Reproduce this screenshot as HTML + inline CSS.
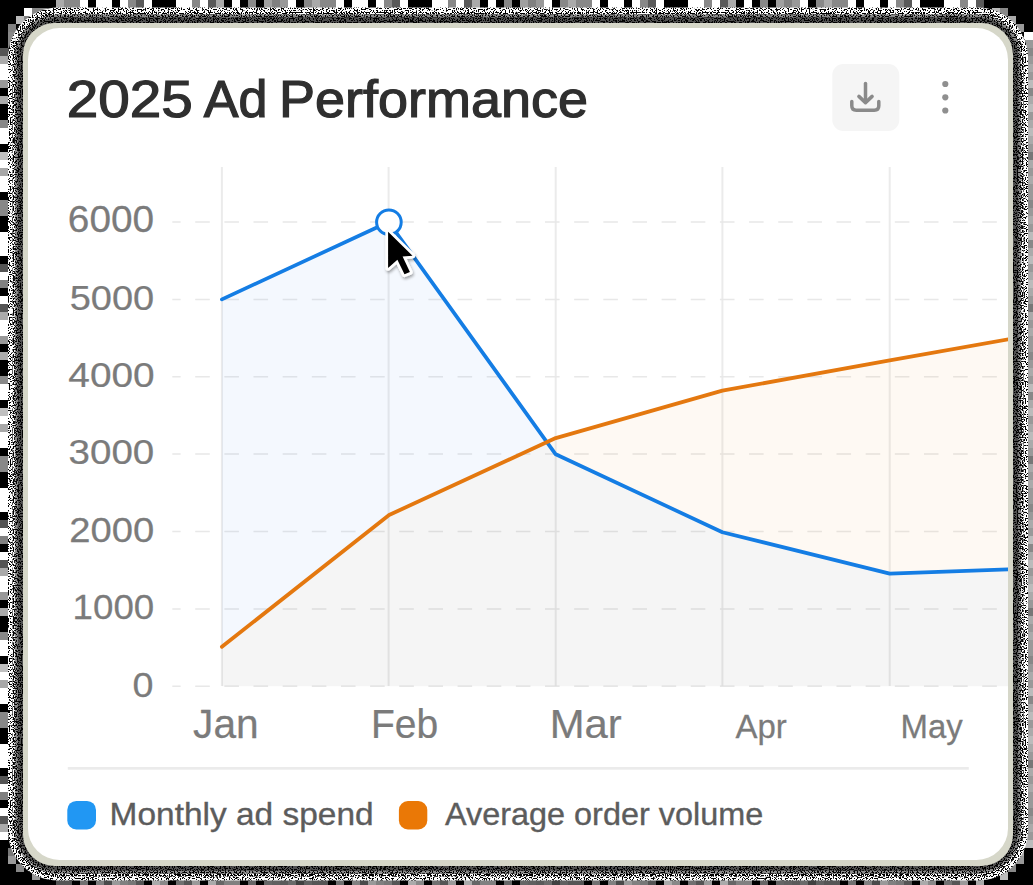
<!DOCTYPE html>
<html><head><meta charset="utf-8">
<style>
html,body{margin:0;padding:0;}
body{width:1033px;height:885px;overflow:hidden;position:relative;background:#000;font-family:"Liberation Sans",sans-serif;}
.abs{position:absolute;}
#beige{left:22.8px;top:22.7px;width:990px;height:843.3px;border-radius:31.5px;background:#d6d7c9;}
#card{left:27.7px;top:28px;width:980.3px;height:832px;border-radius:31.5px;background:#fff;overflow:hidden;}
svg{position:absolute;left:0;top:0;}
</style></head><body>
<svg id="bg" width="1033" height="885" style="position:absolute;left:0;top:0">
<rect x="56" y="0" width="8" height="8" fill="rgb(170,170,170)"/>
<rect x="64" y="0" width="8" height="8" fill="rgb(136,136,136)"/>
<rect x="72" y="0" width="8" height="8" fill="rgb(136,136,136)"/>
<rect x="80" y="0" width="8" height="8" fill="rgb(255,255,255)"/>
<rect x="96" y="0" width="8" height="8" fill="rgb(255,255,255)"/>
<rect x="104" y="0" width="8" height="8" fill="rgb(255,255,255)"/>
<rect x="120" y="0" width="8" height="8" fill="rgb(255,255,255)"/>
<rect x="128" y="0" width="8" height="8" fill="rgb(136,136,136)"/>
<rect x="136" y="0" width="8" height="8" fill="rgb(90,90,90)"/>
<rect x="144" y="0" width="8" height="8" fill="rgb(255,255,255)"/>
<rect x="176" y="0" width="8" height="8" fill="rgb(255,255,255)"/>
<rect x="184" y="0" width="8" height="8" fill="rgb(255,255,255)"/>
<rect x="192" y="0" width="8" height="8" fill="rgb(136,136,136)"/>
<rect x="200" y="0" width="8" height="8" fill="rgb(255,255,255)"/>
<rect x="208" y="0" width="8" height="8" fill="rgb(90,90,90)"/>
<rect x="216" y="0" width="8" height="8" fill="rgb(170,170,170)"/>
<rect x="232" y="0" width="8" height="8" fill="rgb(255,255,255)"/>
<rect x="248" y="0" width="8" height="8" fill="rgb(136,136,136)"/>
<rect x="264" y="0" width="8" height="8" fill="rgb(160,160,160)"/>
<rect x="272" y="0" width="8" height="8" fill="rgb(128,128,128)"/>
<rect x="280" y="0" width="8" height="8" fill="rgb(153,153,153)"/>
<rect x="288" y="0" width="8" height="8" fill="rgb(255,255,255)"/>
<rect x="304" y="0" width="8" height="8" fill="rgb(136,136,136)"/>
<rect x="312" y="0" width="8" height="8" fill="rgb(170,170,170)"/>
<rect x="320" y="0" width="8" height="8" fill="rgb(136,136,136)"/>
<rect x="328" y="0" width="8" height="8" fill="rgb(136,136,136)"/>
<rect x="336" y="0" width="8" height="8" fill="rgb(255,255,255)"/>
<rect x="352" y="0" width="8" height="8" fill="rgb(255,255,255)"/>
<rect x="360" y="0" width="8" height="8" fill="rgb(255,255,255)"/>
<rect x="376" y="0" width="8" height="8" fill="rgb(255,255,255)"/>
<rect x="384" y="0" width="8" height="8" fill="rgb(136,136,136)"/>
<rect x="392" y="0" width="8" height="8" fill="rgb(90,90,90)"/>
<rect x="400" y="0" width="8" height="8" fill="rgb(255,255,255)"/>
<rect x="432" y="0" width="8" height="8" fill="rgb(255,255,255)"/>
<rect x="440" y="0" width="8" height="8" fill="rgb(255,255,255)"/>
<rect x="448" y="0" width="8" height="8" fill="rgb(136,136,136)"/>
<rect x="456" y="0" width="8" height="8" fill="rgb(255,255,255)"/>
<rect x="464" y="0" width="8" height="8" fill="rgb(90,90,90)"/>
<rect x="472" y="0" width="8" height="8" fill="rgb(170,170,170)"/>
<rect x="488" y="0" width="8" height="8" fill="rgb(255,255,255)"/>
<rect x="504" y="0" width="8" height="8" fill="rgb(136,136,136)"/>
<rect x="520" y="0" width="8" height="8" fill="rgb(160,160,160)"/>
<rect x="528" y="0" width="8" height="8" fill="rgb(128,128,128)"/>
<rect x="536" y="0" width="8" height="8" fill="rgb(153,153,153)"/>
<rect x="544" y="0" width="8" height="8" fill="rgb(255,255,255)"/>
<rect x="560" y="0" width="8" height="8" fill="rgb(136,136,136)"/>
<rect x="568" y="0" width="8" height="8" fill="rgb(170,170,170)"/>
<rect x="576" y="0" width="8" height="8" fill="rgb(136,136,136)"/>
<rect x="584" y="0" width="8" height="8" fill="rgb(136,136,136)"/>
<rect x="592" y="0" width="8" height="8" fill="rgb(255,255,255)"/>
<rect x="608" y="0" width="8" height="8" fill="rgb(255,255,255)"/>
<rect x="616" y="0" width="8" height="8" fill="rgb(255,255,255)"/>
<rect x="632" y="0" width="8" height="8" fill="rgb(255,255,255)"/>
<rect x="640" y="0" width="8" height="8" fill="rgb(136,136,136)"/>
<rect x="648" y="0" width="8" height="8" fill="rgb(90,90,90)"/>
<rect x="656" y="0" width="8" height="8" fill="rgb(255,255,255)"/>
<rect x="688" y="0" width="8" height="8" fill="rgb(255,255,255)"/>
<rect x="696" y="0" width="8" height="8" fill="rgb(255,255,255)"/>
<rect x="704" y="0" width="8" height="8" fill="rgb(136,136,136)"/>
<rect x="712" y="0" width="8" height="8" fill="rgb(255,255,255)"/>
<rect x="720" y="0" width="8" height="8" fill="rgb(90,90,90)"/>
<rect x="728" y="0" width="8" height="8" fill="rgb(170,170,170)"/>
<rect x="744" y="0" width="8" height="8" fill="rgb(255,255,255)"/>
<rect x="760" y="0" width="8" height="8" fill="rgb(136,136,136)"/>
<rect x="776" y="0" width="8" height="8" fill="rgb(160,160,160)"/>
<rect x="784" y="0" width="8" height="8" fill="rgb(128,128,128)"/>
<rect x="792" y="0" width="8" height="8" fill="rgb(153,153,153)"/>
<rect x="800" y="0" width="8" height="8" fill="rgb(255,255,255)"/>
<rect x="816" y="0" width="8" height="8" fill="rgb(136,136,136)"/>
<rect x="824" y="0" width="8" height="8" fill="rgb(170,170,170)"/>
<rect x="832" y="0" width="8" height="8" fill="rgb(136,136,136)"/>
<rect x="840" y="0" width="8" height="8" fill="rgb(136,136,136)"/>
<rect x="848" y="0" width="8" height="8" fill="rgb(255,255,255)"/>
<rect x="864" y="0" width="8" height="8" fill="rgb(255,255,255)"/>
<rect x="872" y="0" width="8" height="8" fill="rgb(255,255,255)"/>
<rect x="888" y="0" width="8" height="8" fill="rgb(255,255,255)"/>
<rect x="896" y="0" width="8" height="8" fill="rgb(136,136,136)"/>
<rect x="904" y="0" width="8" height="8" fill="rgb(90,90,90)"/>
<rect x="912" y="0" width="8" height="8" fill="rgb(255,255,255)"/>
<rect x="944" y="0" width="8" height="8" fill="rgb(255,255,255)"/>
<rect x="952" y="0" width="8" height="8" fill="rgb(255,255,255)"/>
<rect x="960" y="0" width="8" height="8" fill="rgb(136,136,136)"/>
<rect x="968" y="0" width="8" height="8" fill="rgb(255,255,255)"/>
<rect x="976" y="0" width="8" height="8" fill="rgb(90,90,90)"/>
<rect x="0" y="48" width="8" height="8" fill="rgb(85,85,85)"/>
<rect x="0" y="56" width="8" height="8" fill="rgb(170,170,170)"/>
<rect x="0" y="64" width="8" height="8" fill="rgb(255,255,255)"/>
<rect x="0" y="72" width="8" height="8" fill="rgb(255,255,255)"/>
<rect x="0" y="80" width="8" height="8" fill="rgb(153,153,153)"/>
<rect x="0" y="96" width="8" height="8" fill="rgb(170,170,170)"/>
<rect x="0" y="120" width="8" height="8" fill="rgb(136,136,136)"/>
<rect x="0" y="128" width="8" height="8" fill="rgb(255,255,255)"/>
<rect x="0" y="136" width="8" height="8" fill="rgb(255,255,255)"/>
<rect x="0" y="152" width="8" height="8" fill="rgb(192,192,192)"/>
<rect x="0" y="160" width="8" height="8" fill="rgb(255,255,255)"/>
<rect x="0" y="168" width="8" height="8" fill="rgb(168,168,168)"/>
<rect x="0" y="176" width="8" height="8" fill="rgb(255,255,255)"/>
<rect x="0" y="184" width="8" height="8" fill="rgb(255,255,255)"/>
<rect x="0" y="200" width="8" height="8" fill="rgb(136,136,136)"/>
<rect x="0" y="208" width="8" height="8" fill="rgb(136,136,136)"/>
<rect x="0" y="232" width="8" height="8" fill="rgb(255,255,255)"/>
<rect x="0" y="240" width="8" height="8" fill="rgb(255,255,255)"/>
<rect x="0" y="248" width="8" height="8" fill="rgb(255,255,255)"/>
<rect x="0" y="264" width="8" height="8" fill="rgb(85,85,85)"/>
<rect x="0" y="272" width="8" height="8" fill="rgb(255,255,255)"/>
<rect x="0" y="280" width="8" height="8" fill="rgb(128,128,128)"/>
<rect x="0" y="296" width="8" height="8" fill="rgb(255,255,255)"/>
<rect x="0" y="304" width="8" height="8" fill="rgb(85,85,85)"/>
<rect x="0" y="312" width="8" height="8" fill="rgb(170,170,170)"/>
<rect x="0" y="320" width="8" height="8" fill="rgb(255,255,255)"/>
<rect x="0" y="328" width="8" height="8" fill="rgb(255,255,255)"/>
<rect x="0" y="336" width="8" height="8" fill="rgb(153,153,153)"/>
<rect x="0" y="352" width="8" height="8" fill="rgb(170,170,170)"/>
<rect x="0" y="376" width="8" height="8" fill="rgb(136,136,136)"/>
<rect x="0" y="384" width="8" height="8" fill="rgb(255,255,255)"/>
<rect x="0" y="392" width="8" height="8" fill="rgb(255,255,255)"/>
<rect x="0" y="408" width="8" height="8" fill="rgb(192,192,192)"/>
<rect x="0" y="416" width="8" height="8" fill="rgb(255,255,255)"/>
<rect x="0" y="424" width="8" height="8" fill="rgb(168,168,168)"/>
<rect x="0" y="432" width="8" height="8" fill="rgb(255,255,255)"/>
<rect x="0" y="440" width="8" height="8" fill="rgb(255,255,255)"/>
<rect x="0" y="456" width="8" height="8" fill="rgb(136,136,136)"/>
<rect x="0" y="464" width="8" height="8" fill="rgb(136,136,136)"/>
<rect x="0" y="488" width="8" height="8" fill="rgb(255,255,255)"/>
<rect x="0" y="496" width="8" height="8" fill="rgb(255,255,255)"/>
<rect x="0" y="504" width="8" height="8" fill="rgb(255,255,255)"/>
<rect x="0" y="520" width="8" height="8" fill="rgb(85,85,85)"/>
<rect x="0" y="528" width="8" height="8" fill="rgb(255,255,255)"/>
<rect x="0" y="536" width="8" height="8" fill="rgb(128,128,128)"/>
<rect x="0" y="552" width="8" height="8" fill="rgb(255,255,255)"/>
<rect x="0" y="560" width="8" height="8" fill="rgb(85,85,85)"/>
<rect x="0" y="568" width="8" height="8" fill="rgb(170,170,170)"/>
<rect x="0" y="576" width="8" height="8" fill="rgb(255,255,255)"/>
<rect x="0" y="584" width="8" height="8" fill="rgb(255,255,255)"/>
<rect x="0" y="592" width="8" height="8" fill="rgb(153,153,153)"/>
<rect x="0" y="608" width="8" height="8" fill="rgb(170,170,170)"/>
<rect x="0" y="632" width="8" height="8" fill="rgb(136,136,136)"/>
<rect x="0" y="640" width="8" height="8" fill="rgb(255,255,255)"/>
<rect x="0" y="648" width="8" height="8" fill="rgb(255,255,255)"/>
<rect x="0" y="664" width="8" height="8" fill="rgb(192,192,192)"/>
<rect x="0" y="672" width="8" height="8" fill="rgb(255,255,255)"/>
<rect x="0" y="680" width="8" height="8" fill="rgb(168,168,168)"/>
<rect x="0" y="688" width="8" height="8" fill="rgb(255,255,255)"/>
<rect x="0" y="696" width="8" height="8" fill="rgb(255,255,255)"/>
<rect x="0" y="712" width="8" height="8" fill="rgb(136,136,136)"/>
<rect x="0" y="720" width="8" height="8" fill="rgb(136,136,136)"/>
<rect x="0" y="744" width="8" height="8" fill="rgb(255,255,255)"/>
<rect x="0" y="752" width="8" height="8" fill="rgb(255,255,255)"/>
<rect x="0" y="760" width="8" height="8" fill="rgb(255,255,255)"/>
<rect x="0" y="776" width="8" height="8" fill="rgb(85,85,85)"/>
<rect x="0" y="784" width="8" height="8" fill="rgb(255,255,255)"/>
<rect x="0" y="792" width="8" height="8" fill="rgb(128,128,128)"/>
<rect x="0" y="808" width="8" height="8" fill="rgb(255,255,255)"/>
<rect x="0" y="816" width="8" height="8" fill="rgb(85,85,85)"/>
<rect x="0" y="824" width="8" height="8" fill="rgb(170,170,170)"/>
<rect x="0" y="832" width="8" height="8" fill="rgb(255,255,255)"/>
<rect x="56" y="880" width="8" height="5" fill="rgb(85,85,85)"/>
<rect x="64" y="880" width="8" height="5" fill="rgb(85,85,85)"/>
<rect x="80" y="880" width="8" height="5" fill="rgb(112,112,112)"/>
<rect x="96" y="880" width="8" height="5" fill="rgb(128,128,128)"/>
<rect x="104" y="880" width="8" height="5" fill="rgb(74,74,74)"/>
<rect x="112" y="880" width="8" height="5" fill="rgb(153,153,153)"/>
<rect x="120" y="880" width="8" height="5" fill="rgb(128,128,128)"/>
<rect x="128" y="880" width="8" height="5" fill="rgb(119,119,119)"/>
<rect x="136" y="880" width="8" height="5" fill="rgb(85,85,85)"/>
<rect x="152" y="880" width="8" height="5" fill="rgb(170,170,170)"/>
<rect x="160" y="880" width="8" height="5" fill="rgb(136,136,136)"/>
<rect x="176" y="880" width="8" height="5" fill="rgb(112,112,112)"/>
<rect x="184" y="880" width="8" height="5" fill="rgb(85,85,85)"/>
<rect x="192" y="880" width="8" height="5" fill="rgb(153,153,153)"/>
<rect x="208" y="880" width="8" height="5" fill="rgb(170,170,170)"/>
<rect x="216" y="880" width="8" height="5" fill="rgb(102,102,102)"/>
<rect x="224" y="880" width="8" height="5" fill="rgb(128,128,128)"/>
<rect x="232" y="880" width="8" height="5" fill="rgb(128,128,128)"/>
<rect x="248" y="880" width="8" height="5" fill="rgb(102,102,102)"/>
<rect x="264" y="880" width="8" height="5" fill="rgb(102,102,102)"/>
<rect x="272" y="880" width="8" height="5" fill="rgb(96,96,96)"/>
<rect x="280" y="880" width="8" height="5" fill="rgb(90,90,90)"/>
<rect x="288" y="880" width="8" height="5" fill="rgb(106,106,106)"/>
<rect x="296" y="880" width="8" height="5" fill="rgb(64,64,64)"/>
<rect x="304" y="880" width="8" height="5" fill="rgb(96,96,96)"/>
<rect x="312" y="880" width="8" height="5" fill="rgb(85,85,85)"/>
<rect x="320" y="880" width="8" height="5" fill="rgb(85,85,85)"/>
<rect x="336" y="880" width="8" height="5" fill="rgb(112,112,112)"/>
<rect x="352" y="880" width="8" height="5" fill="rgb(128,128,128)"/>
<rect x="360" y="880" width="8" height="5" fill="rgb(74,74,74)"/>
<rect x="368" y="880" width="8" height="5" fill="rgb(153,153,153)"/>
<rect x="376" y="880" width="8" height="5" fill="rgb(128,128,128)"/>
<rect x="384" y="880" width="8" height="5" fill="rgb(119,119,119)"/>
<rect x="392" y="880" width="8" height="5" fill="rgb(85,85,85)"/>
<rect x="408" y="880" width="8" height="5" fill="rgb(170,170,170)"/>
<rect x="416" y="880" width="8" height="5" fill="rgb(136,136,136)"/>
<rect x="432" y="880" width="8" height="5" fill="rgb(112,112,112)"/>
<rect x="440" y="880" width="8" height="5" fill="rgb(85,85,85)"/>
<rect x="448" y="880" width="8" height="5" fill="rgb(153,153,153)"/>
<rect x="464" y="880" width="8" height="5" fill="rgb(170,170,170)"/>
<rect x="472" y="880" width="8" height="5" fill="rgb(102,102,102)"/>
<rect x="480" y="880" width="8" height="5" fill="rgb(128,128,128)"/>
<rect x="488" y="880" width="8" height="5" fill="rgb(128,128,128)"/>
<rect x="504" y="880" width="8" height="5" fill="rgb(102,102,102)"/>
<rect x="520" y="880" width="8" height="5" fill="rgb(102,102,102)"/>
<rect x="528" y="880" width="8" height="5" fill="rgb(96,96,96)"/>
<rect x="536" y="880" width="8" height="5" fill="rgb(90,90,90)"/>
<rect x="544" y="880" width="8" height="5" fill="rgb(106,106,106)"/>
<rect x="552" y="880" width="8" height="5" fill="rgb(64,64,64)"/>
<rect x="560" y="880" width="8" height="5" fill="rgb(96,96,96)"/>
<rect x="568" y="880" width="8" height="5" fill="rgb(85,85,85)"/>
<rect x="576" y="880" width="8" height="5" fill="rgb(85,85,85)"/>
<rect x="592" y="880" width="8" height="5" fill="rgb(112,112,112)"/>
<rect x="608" y="880" width="8" height="5" fill="rgb(128,128,128)"/>
<rect x="616" y="880" width="8" height="5" fill="rgb(74,74,74)"/>
<rect x="624" y="880" width="8" height="5" fill="rgb(153,153,153)"/>
<rect x="632" y="880" width="8" height="5" fill="rgb(128,128,128)"/>
<rect x="640" y="880" width="8" height="5" fill="rgb(119,119,119)"/>
<rect x="648" y="880" width="8" height="5" fill="rgb(85,85,85)"/>
<rect x="664" y="880" width="8" height="5" fill="rgb(170,170,170)"/>
<rect x="672" y="880" width="8" height="5" fill="rgb(136,136,136)"/>
<rect x="688" y="880" width="8" height="5" fill="rgb(112,112,112)"/>
<rect x="696" y="880" width="8" height="5" fill="rgb(85,85,85)"/>
<rect x="704" y="880" width="8" height="5" fill="rgb(153,153,153)"/>
<rect x="720" y="880" width="8" height="5" fill="rgb(170,170,170)"/>
<rect x="728" y="880" width="8" height="5" fill="rgb(102,102,102)"/>
<rect x="736" y="880" width="8" height="5" fill="rgb(128,128,128)"/>
<rect x="744" y="880" width="8" height="5" fill="rgb(128,128,128)"/>
<rect x="760" y="880" width="8" height="5" fill="rgb(102,102,102)"/>
<rect x="776" y="880" width="8" height="5" fill="rgb(102,102,102)"/>
<rect x="784" y="880" width="8" height="5" fill="rgb(96,96,96)"/>
<rect x="792" y="880" width="8" height="5" fill="rgb(90,90,90)"/>
<rect x="800" y="880" width="8" height="5" fill="rgb(106,106,106)"/>
<rect x="808" y="880" width="8" height="5" fill="rgb(64,64,64)"/>
<rect x="816" y="880" width="8" height="5" fill="rgb(96,96,96)"/>
<rect x="824" y="880" width="8" height="5" fill="rgb(85,85,85)"/>
<rect x="832" y="880" width="8" height="5" fill="rgb(85,85,85)"/>
<rect x="848" y="880" width="8" height="5" fill="rgb(112,112,112)"/>
<rect x="864" y="880" width="8" height="5" fill="rgb(128,128,128)"/>
<rect x="872" y="880" width="8" height="5" fill="rgb(74,74,74)"/>
<rect x="880" y="880" width="8" height="5" fill="rgb(153,153,153)"/>
<rect x="888" y="880" width="8" height="5" fill="rgb(128,128,128)"/>
<rect x="896" y="880" width="8" height="5" fill="rgb(119,119,119)"/>
<rect x="904" y="880" width="8" height="5" fill="rgb(85,85,85)"/>
<rect x="920" y="880" width="8" height="5" fill="rgb(170,170,170)"/>
<rect x="928" y="880" width="8" height="5" fill="rgb(136,136,136)"/>
<rect x="944" y="880" width="8" height="5" fill="rgb(112,112,112)"/>
<rect x="952" y="880" width="8" height="5" fill="rgb(85,85,85)"/>
<rect x="960" y="880" width="8" height="5" fill="rgb(153,153,153)"/>
<rect x="976" y="880" width="8" height="5" fill="rgb(170,170,170)"/>
<rect x="1024" y="32" width="9" height="8" fill="rgb(255,255,255)"/>
<rect x="1024" y="40" width="9" height="8" fill="rgb(153,153,153)"/>
<rect x="1024" y="48" width="9" height="8" fill="rgb(136,136,136)"/>
<rect x="1024" y="56" width="9" height="8" fill="rgb(153,153,153)"/>
<rect x="1024" y="64" width="9" height="8" fill="rgb(170,170,170)"/>
<rect x="1024" y="72" width="9" height="8" fill="rgb(153,153,153)"/>
<rect x="1024" y="80" width="9" height="8" fill="rgb(187,187,187)"/>
<rect x="1024" y="88" width="9" height="8" fill="rgb(136,136,136)"/>
<rect x="1024" y="96" width="9" height="8" fill="rgb(170,170,170)"/>
<rect x="1024" y="104" width="9" height="8" fill="rgb(187,187,187)"/>
<rect x="1024" y="112" width="9" height="8" fill="rgb(153,153,153)"/>
<rect x="1024" y="120" width="9" height="8" fill="rgb(170,170,170)"/>
<rect x="1024" y="128" width="9" height="8" fill="rgb(187,187,187)"/>
<rect x="1024" y="136" width="9" height="8" fill="rgb(170,170,170)"/>
<rect x="1024" y="144" width="9" height="8" fill="rgb(153,153,153)"/>
<rect x="1024" y="152" width="9" height="8" fill="rgb(119,119,119)"/>
<rect x="1024" y="160" width="9" height="8" fill="rgb(170,170,170)"/>
<rect x="1024" y="168" width="9" height="8" fill="rgb(153,153,153)"/>
<rect x="1024" y="176" width="9" height="8" fill="rgb(170,170,170)"/>
<rect x="1024" y="184" width="9" height="8" fill="rgb(153,153,153)"/>
<rect x="1024" y="192" width="9" height="8" fill="rgb(153,153,153)"/>
<rect x="1024" y="200" width="9" height="8" fill="rgb(136,136,136)"/>
<rect x="1024" y="208" width="9" height="8" fill="rgb(153,153,153)"/>
<rect x="1024" y="216" width="9" height="8" fill="rgb(170,170,170)"/>
<rect x="1024" y="224" width="9" height="8" fill="rgb(153,153,153)"/>
<rect x="1024" y="232" width="9" height="8" fill="rgb(187,187,187)"/>
<rect x="1024" y="240" width="9" height="8" fill="rgb(136,136,136)"/>
<rect x="1024" y="248" width="9" height="8" fill="rgb(170,170,170)"/>
<rect x="1024" y="256" width="9" height="8" fill="rgb(187,187,187)"/>
<rect x="1024" y="264" width="9" height="8" fill="rgb(153,153,153)"/>
<rect x="1024" y="272" width="9" height="8" fill="rgb(170,170,170)"/>
<rect x="1024" y="280" width="9" height="8" fill="rgb(187,187,187)"/>
<rect x="1024" y="288" width="9" height="8" fill="rgb(170,170,170)"/>
<rect x="1024" y="296" width="9" height="8" fill="rgb(153,153,153)"/>
<rect x="1024" y="304" width="9" height="8" fill="rgb(119,119,119)"/>
<rect x="1024" y="312" width="9" height="8" fill="rgb(170,170,170)"/>
<rect x="1024" y="320" width="9" height="8" fill="rgb(153,153,153)"/>
<rect x="1024" y="328" width="9" height="8" fill="rgb(170,170,170)"/>
<rect x="1024" y="336" width="9" height="8" fill="rgb(153,153,153)"/>
<rect x="1024" y="344" width="9" height="8" fill="rgb(153,153,153)"/>
<rect x="1024" y="352" width="9" height="8" fill="rgb(136,136,136)"/>
<rect x="1024" y="360" width="9" height="8" fill="rgb(153,153,153)"/>
<rect x="1024" y="368" width="9" height="8" fill="rgb(170,170,170)"/>
<rect x="1024" y="376" width="9" height="8" fill="rgb(153,153,153)"/>
<rect x="1024" y="384" width="9" height="8" fill="rgb(187,187,187)"/>
<rect x="1024" y="392" width="9" height="8" fill="rgb(136,136,136)"/>
<rect x="1024" y="400" width="9" height="8" fill="rgb(170,170,170)"/>
<rect x="1024" y="408" width="9" height="8" fill="rgb(187,187,187)"/>
<rect x="1024" y="416" width="9" height="8" fill="rgb(153,153,153)"/>
<rect x="1024" y="424" width="9" height="8" fill="rgb(170,170,170)"/>
<rect x="1024" y="432" width="9" height="8" fill="rgb(187,187,187)"/>
<rect x="1024" y="440" width="9" height="8" fill="rgb(170,170,170)"/>
<rect x="1024" y="448" width="9" height="8" fill="rgb(153,153,153)"/>
<rect x="1024" y="456" width="9" height="8" fill="rgb(119,119,119)"/>
<rect x="1024" y="464" width="9" height="8" fill="rgb(170,170,170)"/>
<rect x="1024" y="472" width="9" height="8" fill="rgb(153,153,153)"/>
<rect x="1024" y="480" width="9" height="8" fill="rgb(170,170,170)"/>
<rect x="1024" y="488" width="9" height="8" fill="rgb(153,153,153)"/>
<rect x="1024" y="496" width="9" height="8" fill="rgb(153,153,153)"/>
<rect x="1024" y="504" width="9" height="8" fill="rgb(136,136,136)"/>
<rect x="1024" y="512" width="9" height="8" fill="rgb(153,153,153)"/>
<rect x="1024" y="520" width="9" height="8" fill="rgb(170,170,170)"/>
<rect x="1024" y="528" width="9" height="8" fill="rgb(153,153,153)"/>
<rect x="1024" y="536" width="9" height="8" fill="rgb(187,187,187)"/>
<rect x="1024" y="544" width="9" height="8" fill="rgb(136,136,136)"/>
<rect x="1024" y="552" width="9" height="8" fill="rgb(170,170,170)"/>
<rect x="1024" y="560" width="9" height="8" fill="rgb(187,187,187)"/>
<rect x="1024" y="568" width="9" height="8" fill="rgb(153,153,153)"/>
<rect x="1024" y="576" width="9" height="8" fill="rgb(170,170,170)"/>
<rect x="1024" y="584" width="9" height="8" fill="rgb(187,187,187)"/>
<rect x="1024" y="592" width="9" height="8" fill="rgb(170,170,170)"/>
<rect x="1024" y="600" width="9" height="8" fill="rgb(153,153,153)"/>
<rect x="1024" y="608" width="9" height="8" fill="rgb(119,119,119)"/>
<rect x="1024" y="616" width="9" height="8" fill="rgb(170,170,170)"/>
<rect x="1024" y="624" width="9" height="8" fill="rgb(153,153,153)"/>
<rect x="1024" y="632" width="9" height="8" fill="rgb(170,170,170)"/>
<rect x="1024" y="640" width="9" height="8" fill="rgb(153,153,153)"/>
<rect x="1024" y="648" width="9" height="8" fill="rgb(153,153,153)"/>
<rect x="1024" y="656" width="9" height="8" fill="rgb(136,136,136)"/>
<rect x="1024" y="664" width="9" height="8" fill="rgb(153,153,153)"/>
<rect x="1024" y="672" width="9" height="8" fill="rgb(170,170,170)"/>
<rect x="1024" y="680" width="9" height="8" fill="rgb(153,153,153)"/>
<rect x="1024" y="688" width="9" height="8" fill="rgb(187,187,187)"/>
<rect x="1024" y="696" width="9" height="8" fill="rgb(136,136,136)"/>
<rect x="1024" y="704" width="9" height="8" fill="rgb(170,170,170)"/>
<rect x="1024" y="712" width="9" height="8" fill="rgb(187,187,187)"/>
<rect x="1024" y="720" width="9" height="8" fill="rgb(153,153,153)"/>
<rect x="1024" y="728" width="9" height="8" fill="rgb(170,170,170)"/>
<rect x="1024" y="736" width="9" height="8" fill="rgb(187,187,187)"/>
<rect x="1024" y="744" width="9" height="8" fill="rgb(170,170,170)"/>
<rect x="1024" y="752" width="9" height="8" fill="rgb(153,153,153)"/>
<rect x="1024" y="760" width="9" height="8" fill="rgb(119,119,119)"/>
<rect x="1024" y="768" width="9" height="8" fill="rgb(170,170,170)"/>
<rect x="1024" y="776" width="9" height="8" fill="rgb(153,153,153)"/>
<rect x="1024" y="784" width="9" height="8" fill="rgb(170,170,170)"/>
<rect x="1024" y="792" width="9" height="8" fill="rgb(153,153,153)"/>
<rect x="1024" y="800" width="9" height="8" fill="rgb(153,153,153)"/>
<rect x="1024" y="808" width="9" height="8" fill="rgb(136,136,136)"/>
<rect x="1024" y="816" width="9" height="8" fill="rgb(153,153,153)"/>
<rect x="1024" y="824" width="9" height="8" fill="rgb(170,170,170)"/>
<rect x="1024" y="832" width="9" height="8" fill="rgb(153,153,153)"/>
<rect x="1024" y="840" width="9" height="8" fill="rgb(187,187,187)"/>
<rect x="24" y="8" width="8" height="8" fill="rgb(255,255,255)"/>
<rect x="32" y="8" width="8" height="8" fill="rgb(136,136,136)"/>
<rect x="40" y="8" width="8" height="8" fill="rgb(136,136,136)"/>
<rect x="16" y="16" width="8" height="8" fill="rgb(187,187,187)"/>
<rect x="24" y="16" width="8" height="8" fill="rgb(128,128,128)"/>
<rect x="8" y="24" width="8" height="8" fill="rgb(128,128,128)"/>
<rect x="8" y="32" width="8" height="8" fill="rgb(136,136,136)"/>
<rect x="8" y="40" width="8" height="8" fill="rgb(136,136,136)"/>
<rect x="992" y="8" width="8" height="8" fill="rgb(187,187,187)"/>
<rect x="1000" y="8" width="8" height="8" fill="rgb(136,136,136)"/>
<rect x="1008" y="16" width="8" height="8" fill="rgb(170,170,170)"/>
<rect x="1016" y="24" width="8" height="8" fill="rgb(153,153,153)"/>
<rect x="8" y="848" width="8" height="8" fill="rgb(119,119,119)"/>
<rect x="8" y="856" width="8" height="8" fill="rgb(153,153,153)"/>
<rect x="16" y="864" width="8" height="8" fill="rgb(136,136,136)"/>
<rect x="32" y="872" width="8" height="8" fill="rgb(153,153,153)"/>
<rect x="1016" y="848" width="8" height="8" fill="rgb(170,170,170)"/>
<rect x="1016" y="856" width="8" height="8" fill="rgb(153,153,153)"/>
<rect x="1008" y="864" width="8" height="8" fill="rgb(136,136,136)"/>
<rect x="1000" y="872" width="8" height="8" fill="rgb(187,187,187)"/>
<defs>
<filter id="n0" filterUnits="userSpaceOnUse" x="0" y="0" width="1033" height="885"><feTurbulence type="fractalNoise" baseFrequency="0.75" numOctaves="1" seed="11" result="t"/><feColorMatrix in="t" type="matrix" values="0 0 0 0 0 0 0 0 0 0 0 0 0 0 0 1 0 0 0 0" result="a"/><feComponentTransfer in="a" result="b"><feFuncA type="linear" slope="40" intercept="-21.40"/></feComponentTransfer><feComposite in="SourceGraphic" in2="b" operator="in"/></filter>
<filter id="n1" filterUnits="userSpaceOnUse" x="0" y="0" width="1033" height="885"><feTurbulence type="fractalNoise" baseFrequency="0.75" numOctaves="1" seed="16" result="t"/><feColorMatrix in="t" type="matrix" values="0 0 0 0 0 0 0 0 0 0 0 0 0 0 0 1 0 0 0 0" result="a"/><feComponentTransfer in="a" result="b"><feFuncA type="linear" slope="40" intercept="-19.00"/></feComponentTransfer><feComposite in="SourceGraphic" in2="b" operator="in"/></filter>
<filter id="n2" filterUnits="userSpaceOnUse" x="0" y="0" width="1033" height="885"><feTurbulence type="fractalNoise" baseFrequency="0.75" numOctaves="1" seed="21" result="t"/><feColorMatrix in="t" type="matrix" values="0 0 0 0 0 0 0 0 0 0 0 0 0 0 0 1 0 0 0 0" result="a"/><feComponentTransfer in="a" result="b"><feFuncA type="linear" slope="40" intercept="-20.20"/></feComponentTransfer><feComposite in="SourceGraphic" in2="b" operator="in"/></filter>
<filter id="n3" filterUnits="userSpaceOnUse" x="0" y="0" width="1033" height="885"><feTurbulence type="fractalNoise" baseFrequency="0.75" numOctaves="1" seed="26" result="t"/><feColorMatrix in="t" type="matrix" values="0 0 0 0 0 0 0 0 0 0 0 0 0 0 0 1 0 0 0 0" result="a"/><feComponentTransfer in="a" result="b"><feFuncA type="linear" slope="40" intercept="-20.20"/></feComponentTransfer><feComposite in="SourceGraphic" in2="b" operator="in"/></filter>
<mask id="m0" maskUnits="userSpaceOnUse" x="0" y="0" width="1033" height="885"><rect x="8.0" y="7.6" width="1020.0" height="873.0" rx="50" fill="#fff"/><rect x="12.4" y="12.0" width="1011.2" height="864.2" rx="46" fill="#000"/></mask>
<mask id="m1" maskUnits="userSpaceOnUse" x="0" y="0" width="1033" height="885"><rect x="12.4" y="12.0" width="1011.2" height="864.2" rx="46" fill="#fff"/><rect x="14.9" y="14.5" width="1006.2" height="859.2" rx="43" fill="#000"/></mask>
<mask id="m2" maskUnits="userSpaceOnUse" x="0" y="0" width="1033" height="885"><rect x="14.9" y="14.5" width="1006.2" height="859.2" rx="43" fill="#fff"/><rect x="17.9" y="17.5" width="1000.2" height="853.2" rx="40" fill="#000"/></mask>
<mask id="m3" maskUnits="userSpaceOnUse" x="0" y="0" width="1033" height="885"><rect x="17.9" y="17.5" width="1000.2" height="853.2" rx="40" fill="#fff"/></mask>
</defs>
<rect x="8.0" y="7.6" width="1020.0" height="873.0" rx="50" fill="#fff"/>
<rect x="14.9" y="14.5" width="1006.2" height="859.2" rx="43" fill="#8a8a8a"/>
<rect x="17.9" y="17.5" width="1000.2" height="853.2" rx="40" fill="#505050"/>
<g mask="url(#m0)"><rect x="0" y="0" width="1033" height="885" fill="#000" filter="url(#n0)"/></g>
<g mask="url(#m1)"><rect x="0" y="0" width="1033" height="885" fill="#000" filter="url(#n1)"/></g>
<g mask="url(#m2)"><rect x="0" y="0" width="1033" height="885" fill="#000" filter="url(#n2)"/></g>
<g mask="url(#m3)"><rect x="0" y="0" width="1033" height="885" fill="#000" filter="url(#n3)"/></g>

</svg>
<div id="beige" class="abs"></div>
<div id="card" class="abs">
<svg width="1033" height="885" viewBox="27.7 28 1033 885" style="left:0;top:0">
  <!-- vertical grid -->
  <g stroke="#ebebeb" stroke-width="2">
    <line x1="221.6" y1="167" x2="221.6" y2="686"/>
    <line x1="388.3" y1="167" x2="388.3" y2="686"/>
    <line x1="555.4" y1="167" x2="555.4" y2="686"/>
    <line x1="722.1" y1="167" x2="722.1" y2="686"/>
    <line x1="889.4" y1="167" x2="889.4" y2="686"/>
  </g>
  <!-- dashed horizontals -->
  <g stroke="#e8e8e8" stroke-width="1.5" stroke-dasharray="14.6 14.55" stroke-dashoffset="6.25">
    <line x1="172" y1="222" x2="1008" y2="222"/>
    <line x1="172" y1="299.4" x2="1008" y2="299.4"/>
    <line x1="172" y1="376.8" x2="1008" y2="376.8"/>
    <line x1="172" y1="454.1" x2="1008" y2="454.1"/>
    <line x1="172" y1="531.5" x2="1008" y2="531.5"/>
    <line x1="172" y1="608.9" x2="1008" y2="608.9"/>
    <line x1="172" y1="686.3" x2="1008" y2="686.3"/>
  </g>
  <!-- fills -->
  <path d="M221.6 646.8 L388.8 515 L546.65 442.1 L555.4 454.3 L722.1 532.2 L889.4 573.6 L1008 569.3 L1008 686.3 L221.6 686.3 Z" fill="rgba(0,0,0,0.039)"/>
  <path d="M221.6 299.4 L388.3 222 L546.65 442.1 L388.8 515 L221.6 646.8 Z" fill="rgba(35,115,235,0.05)"/>
  <path d="M546.65 442.1 L555.4 438.1 L722.1 390.7 L889.4 360.4 L1008 339.3 L1008 569.3 L889.4 573.6 L722.1 532.2 L555.4 454.3 Z" fill="rgba(235,135,15,0.05)"/>
  <!-- lines -->
  <path d="M221.6 299.4 L388.3 222 L555.4 454.3 L722.1 532.2 L889.4 573.6 L1012 569.2" fill="none" stroke="#147de4" stroke-width="3.7" stroke-linejoin="round" stroke-linecap="round"/>
  <path d="M221.6 646.8 L388.8 515 L555.4 438.1 L722.1 390.7 L889.4 360.4 L1012 338.6" fill="none" stroke="#e4780f" stroke-width="3.8" stroke-linejoin="round" stroke-linecap="round"/>
  <!-- hover point -->
  <circle cx="388.6" cy="222.2" r="12.3" fill="#fff" stroke="#147de4" stroke-width="3"/>
  <!-- y labels -->
  <g fill="#7b7b7b" stroke="#7b7b7b" stroke-width="0.25" font-family="Liberation Sans">
<text transform="translate(67.56 232.3) scale(1.0785 1)" font-size="36">6000</text>
<text transform="translate(69.38 309.5) scale(1.0553 1)" font-size="36">5000</text>
<text transform="translate(68.02 386.9) scale(1.0777 1)" font-size="36">4000</text>
<text transform="translate(68.26 464.2) scale(1.0709 1)" font-size="36">3000</text>
<text transform="translate(68.99 541.9) scale(1.0616 1)" font-size="36">2000</text>
<text transform="translate(72.26 619.2) scale(1.0198 1)" font-size="36">1000</text>
<text transform="translate(132.29 696.6) scale(1.0475 1)" font-size="36">0</text>
  </g>
  <!-- x labels -->
  <g fill="#7b7b7b" stroke="#7b7b7b" stroke-width="0.25" font-family="Liberation Sans">
<text transform="translate(192.79 738.4) scale(0.9931 1)" font-size="41">Jan</text>
<text transform="translate(370.68 738.4) scale(0.9512 1)" font-size="41">Feb</text>
<text transform="translate(549.46 738.4) scale(1.019 1)" font-size="41">Mar</text>
<text transform="translate(735.2 737.9) scale(0.9847 1)" font-size="33.5">Apr</text>
<text transform="translate(900.27 737.9) scale(0.9829 1)" font-size="33.5">May</text>
  </g>
  <!-- title -->
  <g fill="#2f2f2f" stroke="#2f2f2f" stroke-width="1.2" font-family="Liberation Sans">
<text transform="translate(66.36 117.4) scale(1.1012 1)" font-size="51.5">2025</text>
<text transform="translate(203.5 117.2) scale(1.0127 1)" font-size="51.5">Ad</text>
<text transform="translate(278.68 117.2) scale(1.0482 1)" font-size="51.5">Performance</text>
  </g>
  <!-- download button -->
  <rect x="832" y="64" width="67" height="67" rx="11" fill="#f5f5f5"/>
  <g fill="none" stroke="#8a8a8a" stroke-width="3.5" stroke-linecap="round" stroke-linejoin="round">
    <path d="M865.2 83.5 L865.2 102"/>
    <path d="M858.6 96.4 L865.2 102.6 L871.8 96.4"/>
    <path d="M851.5 101.5 L851.5 105.8 Q851.5 110.3 856 110.3 L874 110.3 Q878.5 110.3 878.5 105.8 L878.5 101.5"/>
  </g>
  <g fill="#8f8f8f">
    <circle cx="945" cy="84" r="3.1"/>
    <circle cx="945" cy="97.3" r="3.1"/>
    <circle cx="945" cy="110.5" r="3.1"/>
  </g>
  <!-- divider -->
  <rect x="67.5" y="767" width="901" height="2.7" fill="#ebebeb"/>
  <!-- legend -->
  <rect x="67" y="800.9" width="28.7" height="28.5" rx="9" fill="#2197f3"/>
  <rect x="398.6" y="801" width="28.4" height="28.4" rx="9" fill="#ea7806"/>
  <g fill="#5c5c5c" stroke="#5c5c5c" stroke-width="0.35" font-family="Liberation Sans">
<text transform="translate(109.32 825) scale(1.0724 1)" font-size="31.2">Monthly ad spend</text>
<text transform="translate(444.7 825) scale(1.0392 1)" font-size="31.2">Average order volume</text>
  </g>
  <!-- cursor -->
  <defs><filter id="sh" x="-50%" y="-50%" width="200%" height="200%"><feGaussianBlur in="SourceAlpha" stdDeviation="1.5"/><feOffset dx="0.5" dy="2"/><feComponentTransfer><feFuncA type="linear" slope="0.35"/></feComponentTransfer><feMerge><feMergeNode/><feMergeNode in="SourceGraphic"/></feMerge></filter></defs>
  <path filter="url(#sh)" d="M387.8 231.8 L387.8 267.9 L397.1 259.8 L404.2 274.3 L409.6 272.1 L402.3 256.6 L412.2 255.8 Z" fill="#000" stroke="#fff" stroke-width="5.5" stroke-linejoin="round" paint-order="stroke"/>
</svg>
</div>
</body></html>
